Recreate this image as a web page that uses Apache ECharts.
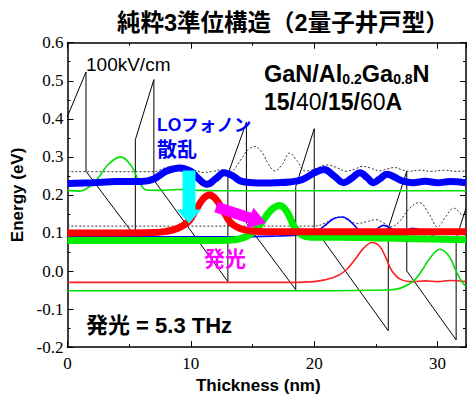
<!DOCTYPE html>
<html>
<head>
<meta charset="utf-8">
<script src="https://cdn.jsdelivr.net/npm/echarts@6/dist/echarts.min.js"></script>
<style>
  html, body { margin: 0; padding: 0; background: #fff; }
  #chart { width: 468px; height: 399px; }
</style>
</head>
<body>
<div id="chart"></div>
<script>
// conduction band profile (thin black sawtooth)
const bandX = [-0.6, 1.5, 1.5, 5.5, 5.5, 7.0, 7.0, 13.0, 13.0, 14.5, 14.5, 18.5, 18.5, 20.0, 20.0, 26.0, 26.0, 27.5, 27.5, 31.5, 31.5, 32.3];
const bandE = [0.36, 0.523, 0.262, 0.090, 0.345, 0.503, 0.239, -0.028, 0.254, 0.391, 0.125, -0.049, 0.222, 0.374, 0.114, -0.157, 0.112, 0.262, 0.0, -0.181, 0.085, 0.165];

// dotted levels
const dotUpX = [0, 7.0, 7.8, 8.6, 9.5, 10.3, 11.0, 11.8, 12.5, 13.2, 14.0, 14.6, 15.2, 15.8, 16.3, 16.8, 17.4, 18.0, 18.6, 19.3, 20.1, 21.0, 21.8, 22.6, 23.3, 23.9, 24.6, 25.3, 25.9, 26.5, 27.1, 27.7, 28.5, 29.5, 30.5, 31.5, 32.3];
const dotUpE = [0.261, 0.261, 0.27, 0.276, 0.273, 0.265, 0.259, 0.262, 0.266, 0.262, 0.29, 0.318, 0.327, 0.31, 0.28, 0.263, 0.28, 0.31, 0.29, 0.263, 0.268, 0.279, 0.272, 0.262, 0.268, 0.275, 0.27, 0.263, 0.268, 0.272, 0.266, 0.262, 0.265, 0.262, 0.265, 0.262, 0.263];
const dotLowX = [0, 20.0, 20.8, 21.5, 22.1, 22.8, 23.5, 24.3, 25.0, 25.6, 26.2, 26.9, 27.6, 28.5, 29.3, 30.0, 30.6, 31.3, 31.9, 32.3];
const dotLowE = [0.118, 0.118, 0.125, 0.137, 0.142, 0.133, 0.125, 0.13, 0.135, 0.127, 0.116, 0.13, 0.16, 0.18, 0.15, 0.116, 0.14, 0.165, 0.15, 0.135];

// thick blue (upper level)
const blueX = [0, 2, 4, 6, 7, 8, 9.1, 10.0, 10.6, 11.3, 12.0, 12.7, 13.4, 14.0, 15, 16, 17, 18, 19, 20, 20.8, 21.6, 22.4, 23.0, 23.7, 24.3, 24.8, 25.3, 25.9, 26.5, 27.2, 28, 29, 30, 31, 32.3];
const blueE = [0.230, 0.232, 0.235, 0.235, 0.242, 0.262, 0.271, 0.262, 0.243, 0.228, 0.242, 0.258, 0.25, 0.237, 0.232, 0.231, 0.232, 0.234, 0.24, 0.258, 0.267, 0.25, 0.232, 0.243, 0.258, 0.245, 0.232, 0.242, 0.254, 0.247, 0.236, 0.232, 0.236, 0.232, 0.235, 0.232];

// thin green (upper)
const greenUpX = [0, 1.0, 1.8, 2.5, 3.3, 4.3, 5.2, 5.8, 6.4, 7.5, 9, 10.5, 12, 15, 20, 25, 32.3];
const greenUpE = [0.212, 0.21, 0.222, 0.245, 0.28, 0.30, 0.275, 0.235, 0.213, 0.212, 0.214, 0.212, 0.211, 0.211, 0.211, 0.211, 0.211];

// thin blue (lower)
const blueLowX = [0, 11, 14, 17, 19, 20, 20.8, 21.6, 22.3, 23.0, 23.7, 24.3, 25.0, 25.6, 26.3, 27.0, 28.0, 28.8, 29.6, 30.5, 31.3, 32.3];
const blueLowE = [0.09, 0.09, 0.09, 0.092, 0.095, 0.10, 0.118, 0.138, 0.142, 0.128, 0.105, 0.093, 0.108, 0.12, 0.11, 0.10, 0.112, 0.105, 0.095, 0.103, 0.1, 0.097];

// thick red (lower laser level)
const redX = [0, 4, 7, 8, 9, 9.8, 10.4, 11.0, 11.5, 12.0, 12.6, 13.2, 14.0, 15.0, 16, 18, 20, 25, 32.3];
const redE = [0.1, 0.1, 0.101, 0.104, 0.113, 0.13, 0.16, 0.19, 0.2, 0.19, 0.16, 0.128, 0.112, 0.105, 0.103, 0.103, 0.103, 0.103, 0.103];

// thick green
const greenX = [0, 10, 13, 14, 15, 15.8, 16.5, 17.2, 17.8, 18.4, 19.0, 19.8, 22, 25, 28, 32.3];
const greenE = [0.08, 0.08, 0.081, 0.085, 0.1, 0.13, 0.16, 0.172, 0.155, 0.115, 0.095, 0.089, 0.089, 0.087, 0.085, 0.082];

// thin red (bottom)
const redLowX = [0, 18, 20, 21.5, 22.5, 23.3, 24.0, 24.7, 25.3, 25.8, 26.3, 27.0, 28, 29, 30, 31, 32.3];
const redLowE = [-0.03, -0.03, -0.028, -0.018, 0.0, 0.03, 0.06, 0.075, 0.065, 0.035, 0.0, -0.022, -0.028, -0.026, -0.028, -0.025, -0.028];

// thin green (bottom)
const greenLowX = [0, 20, 26, 27, 28, 28.7, 29.4, 30.2, 30.9, 31.5, 32.0, 32.3];
const greenLowE = [-0.052, -0.052, -0.05, -0.045, -0.028, 0.0, 0.035, 0.057, 0.04, 0.0, -0.03, -0.04];

// arrows [start, end]
const cyanArrow = [[9.85, 0.264], [9.85, 0.125]];
const magentaArrow = [[12.04, 0.168], [16.1, 0.126]];

const xMin = 0, xMax = 32.3, yMin = -0.2, yMax = 0.6;

const chart = echarts.init(document.getElementById('chart'), null, { renderer: 'svg' });

const pairs = (xs, es) => xs.map((x, i) => [x, es[i]]);

function line(xs, es, color, width, extra) {
  return Object.assign({
    type: 'line',
    data: pairs(xs, es),
    symbol: 'none',
    smooth: 0.4,
    lineStyle: { color: color, width: width },
    silent: true
  }, extra || {});
}

function arrow(pts, color, shaftW, headW, headL) {
  return {
    type: 'custom',
    silent: true,
    z: 5,
    data: [[pts[0][0], pts[0][1], pts[1][0], pts[1][1]]],
    encode: { x: [0, 2], y: [1, 3] },
    renderItem: function (params, api) {
      const a = api.coord([api.value(0), api.value(1)]);
      const b = api.coord([api.value(2), api.value(3)]);
      const dx = b[0] - a[0], dy = b[1] - a[1];
      const L = Math.hypot(dx, dy);
      const ux = dx / L, uy = dy / L, nx = -uy, ny = ux;
      const c = [b[0] - ux * headL, b[1] - uy * headL];
      const p = (q, o) => [q[0] + nx * o, q[1] + ny * o];
      return {
        type: 'polygon',
        shape: { points: [p(a, shaftW / 2), p(c, shaftW / 2), p(c, headW / 2), b, p(c, -headW / 2), p(c, -shaftW / 2), p(a, -shaftW / 2)] },
        style: { fill: color }
      };
    }
  };
}

const labelFont = { fontFamily: 'Liberation Serif', fontSize: 17, color: '#000' };
const nameFont = { fontFamily: 'Liberation Sans', fontSize: 17, fontWeight: 'bold', color: '#000' };

function axis(pos, min, max, interval, tickLen, showLine, extra) {
  return Object.assign({
    type: 'value', position: pos, min: min, max: max, interval: interval,
    axisLine: { show: showLine, onZero: false, lineStyle: { color: '#000', width: 1.5 } },
    axisTick: { show: true, inside: true, length: tickLen, lineStyle: { color: '#000', width: 1 } },
    axisLabel: { show: false },
    splitLine: { show: false }
  }, extra || {});
}

const sans = 'Liberation Sans, Noto Sans CJK JP';

const option = {
  animation: false,
  backgroundColor: '#fff',
  title: {
    text: '純粋3準位構造（2量子井戸型）',
    left: 112, top: 6,
    textStyle: { fontFamily: sans, fontSize: 23.5, fontWeight: 'bold', color: '#000' }
  },
  grid: { left: 67.5, right: 2, top: 42.7, bottom: 46.7 },
  xAxis: [
    axis('bottom', xMin, xMax, 10, 6, true, {
      axisLabel: Object.assign({ show: true, margin: 8, showMaxLabel: false,
        formatter: v => (Math.abs(v % 10) < 1e-6 ? String(v) : '') }, labelFont),
      name: 'Thickness (nm)', nameLocation: 'middle', nameGap: 27,
      nameTextStyle: Object.assign({ padding: [0, 17, 0, 0] }, nameFont)
    }),
    axis('bottom', xMin, xMax, 5, 3, false),
    axis('top', xMin, xMax, 10, 6, true),
    axis('top', xMin, xMax, 5, 3, false)
  ],
  yAxis: [
    axis('left', yMin, yMax, 0.1, 6, true, {
      minorTick: { show: true, splitNumber: 2, length: 3, lineStyle: { color: '#000' } },
      axisLabel: Object.assign({ show: true, margin: 4, formatter: v => v.toFixed(1) }, labelFont),
      name: 'Energy (eV)', nameLocation: 'middle', nameGap: 27,
      nameTextStyle: nameFont
    }),
    axis('right', yMin, yMax, 0.1, 6, true, {
      minorTick: { show: true, splitNumber: 2, length: 3, lineStyle: { color: '#000' } }
    })
  ],
  series: [
    line(bandX, bandE, '#000', 1, { smooth: false, clip: false }),
    line(dotUpX, dotUpE, '#333', 1, { lineStyle: { color: '#333', width: 1, type: [2, 2] } }),
    line(dotLowX, dotLowE, '#333', 1, { lineStyle: { color: '#333', width: 1, type: [2, 2] } }),
    line(redLowX, redLowE, '#ff2020', 1.6),
    line(greenLowX, greenLowE, '#00e000', 1.6),
    line(greenUpX, greenUpE, '#00e000', 1.6),
    line(blueLowX, blueLowE, '#0000ff', 1.6),
    line(greenX, greenE, '#00ee00', 7),
    line(redX, redE, '#ff0000', 7),
    line(blueX, blueE, '#0000ff', 7),
    arrow(cyanArrow, '#00ffff', 13, 24, 14),
    arrow(magentaArrow, '#ff00ff', 11, 22, 17)
  ],
  graphic: [
    { type: 'text', x: 86, y: 64, z: 10, style: { text: '100kV/cm', font: '19px Liberation Sans', fill: '#000', verticalAlign: 'middle' } },
    { type: 'text', x: 264, y: 74, z: 10, style: {
      text: '{b|GaN/Al}{s|0.2}{b|Ga}{s|0.8}{b|N}', verticalAlign: 'middle',
      rich: {
        b: { fontFamily: 'Liberation Sans', fontSize: 23.5, fontWeight: 'bold', fill: '#000' },
        s: { fontFamily: 'Liberation Sans', fontSize: 14, fontWeight: 'bold', fill: '#000', verticalAlign: 'bottom' }
      } } },
    { type: 'text', x: 264, y: 102, z: 10, style: {
      text: '{b|15/}{r|40}{b|/15/}{r|60}{b|A}', verticalAlign: 'middle',
      rich: {
        b: { fontFamily: 'Liberation Sans', fontSize: 23, fontWeight: 'bold', fill: '#000' },
        r: { fontFamily: 'Liberation Sans', fontSize: 23, fill: '#000' }
      } } },
    { type: 'text', x: 157, y: 125, z: 10, style: { text: 'LOフォノン', font: 'bold 17.5px ' + sans, fill: '#0000ff', verticalAlign: 'middle' } },
    { type: 'text', x: 157, y: 150, z: 10, style: { text: '散乱', font: 'bold 20px ' + sans, fill: '#0000ff', verticalAlign: 'middle' } },
    { type: 'text', x: 204, y: 258, z: 10, style: { text: '発光', font: 'bold 21px ' + sans, fill: '#ff00ff', verticalAlign: 'middle' } },
    { type: 'text', x: 86, y: 325, z: 10, style: { text: '発光 = 5.3 THz', font: 'bold 22px ' + sans, fill: '#000', verticalAlign: 'middle' } }
  ]
};

chart.setOption(option);
</script>
</body>
</html>
